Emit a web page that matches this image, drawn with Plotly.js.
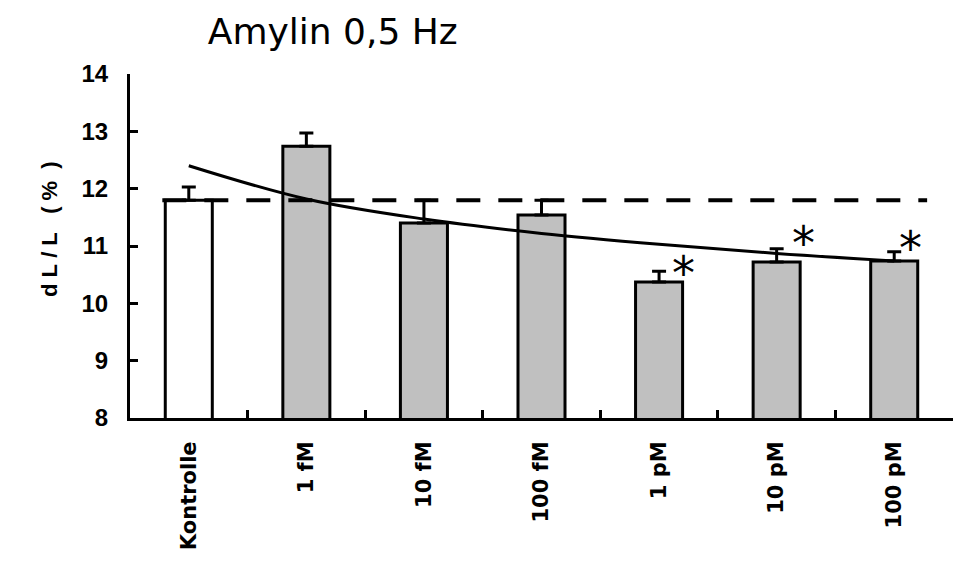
<!DOCTYPE html>
<html>
<head>
<meta charset="utf-8">
<script src="https://cdn.plot.ly/plotly-3.0.1.min.js"></script>
<style>html,body{margin:0;padding:0;background:#fff;}#chart{width:959px;height:569px;}</style>
</head>
<body>
<div id="chart"></div>
<script>
// ---- data ----
const categories = ["Kontrolle", "1 fM", "10 fM", "100 fM", "1 pM", "10 pM", "100 pM"];
const values     = [11.80, 12.74, 11.40, 11.54, 10.37, 10.72, 10.74];
const errorsUp   = [0.23, 0.23, 0.40, 0.26, 0.19, 0.23, 0.16];
const trendValues = [12.40, 11.82, 11.47, 11.22, 11.03, 10.87, 10.74];
const significant = ["1 pM", "10 pM", "100 pM"];
const yTickVals = [8, 9, 10, 11, 12, 13, 14];
const titleText = "Amylin 0,5 Hz";
const NB = "\u00A0";
const yTitleText = ["d", "L", "/", "L", NB + NB + "(", "%", NB + ")"].join(NB);

const barColors = categories.map((c, i) => i === 0 ? "#ffffff" : "#c0c0c0");
const refLevel = values[0];

const bars = {
  type: "bar",
  x: categories,
  y: values,
  width: 0.4,
  marker: { color: barColors, line: { color: "#000", width: 3 } },
  error_y: {
    type: "data", symmetric: false,
    array: errorsUp, arrayminus: errorsUp.map(() => 0),
    color: "#000", thickness: 3, width: 7
  },
  hoverinfo: "x+y",
  showlegend: false
};

const trend = {
  type: "scatter", mode: "lines",
  x: categories, y: trendValues,
  line: { color: "#000", width: 3, shape: "spline" },
  showlegend: false
};

const starAnnotations = significant.map((c, k) => {
  const i = categories.indexOf(c);
  const shifts = [[24, 9], [27, 17], [16, 15]][k];
  return {
    x: c, y: values[i] + errorsUp[i], xref: "x", yref: "y",
    text: "*", showarrow: false,
    xshift: shifts[0], yshift: shifts[1] - 11,
    font: { family: "DejaVu Sans", size: 46, color: "#000" },
    xanchor: "center", yanchor: "middle"
  };
});

const layout = {
  width: 959, height: 569,
  margin: { l: 130, r: 6, t: 74, b: 151 },
  paper_bgcolor: "#fff", plot_bgcolor: "#fff",
  title: {
    text: titleText,
    font: { family: "DejaVu Sans", size: 36, color: "#000" },
    x: 0.347, xanchor: "center", xref: "container",
    y: 0.945, yanchor: "middle", yref: "container"
  },
  xaxis: {
    type: "category", range: [-0.5, 6.5],
    showline: true, linecolor: "#000", linewidth: 3,
    ticks: "inside", tickson: "boundaries", ticklen: 8, tickwidth: 3, tickcolor: "#000",
    tickangle: -90, ticklabelstandoff: 12,
    tickfont: { family: "DejaVu Sans", size: 21, color: "#000", weight: "bold" },
    showgrid: false, zeroline: false, fixedrange: true
  },
  yaxis: {
    range: [8, 14], tickvals: yTickVals,
    showline: true, linecolor: "#000", linewidth: 3,
    ticks: "inside", ticklen: 8, tickwidth: 3, tickcolor: "#000",
    ticklabelstandoff: 14,
    tickfont: { family: "Liberation Sans", size: 24, color: "#000", weight: "bold" },
    showgrid: false, zeroline: false, fixedrange: true
  },
  shapes: [{
    type: "line", xref: "x", yref: "y",
    x0: -0.225, x1: 6.28, y0: refLevel, y1: refLevel,
    line: { color: "#000", width: 4, dash: "24px,18px" },
    layer: "above"
  }],
  annotations: [{
    xref: "paper", yref: "paper", x: -0.097, y: 0.55,
    text: yTitleText, textangle: -90, showarrow: false,
    xanchor: "center", yanchor: "middle",
    font: { family: "Liberation Sans", size: 22, color: "#000", weight: "bold" }
  }].concat(starAnnotations),
  showlegend: false
};

Plotly.newPlot("chart", [bars, trend], layout, { displayModeBar: false, staticPlot: true });
</script>
</body>
</html>
